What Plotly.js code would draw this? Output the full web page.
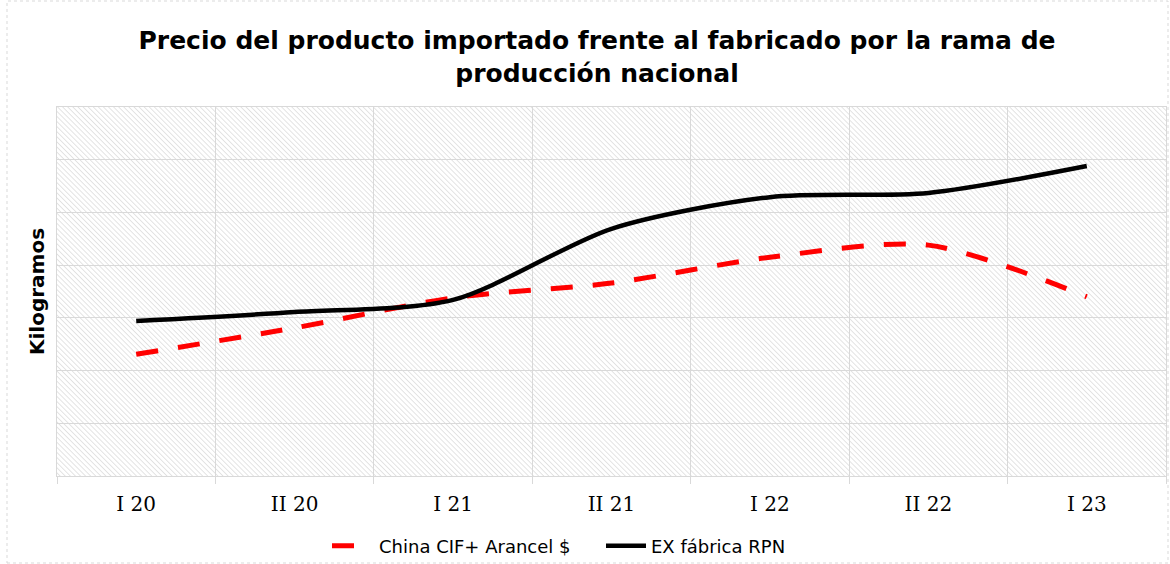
<!DOCTYPE html>
<html>
<head>
<meta charset="utf-8">
<script src="https://cdn.plot.ly/plotly-3.0.1.min.js"></script>
<style>
  html, body { margin: 0; padding: 0; background: #ffffff; }
  #chart { width: 1170px; height: 564px; }
</style>
</head>
<body>
<div id="chart"></div>
<script>
// Data (units of the unlabelled y axis gridlines)
const categories = ['I 20', 'II 20', 'I 21', 'II 21', 'I 22', 'II 22', 'I 23'];
const chinaCIF = [2.31, 2.81, 3.38, 3.66, 4.15, 4.38, 3.40];
const exFabrica = [2.94, 3.11, 3.34, 4.69, 5.29, 5.37, 5.88];
const seriesNames = ['China CIF+ Arancel $', 'EX fábrica RPN'];

const W = 1170, H = 564;
const margin = { l: 57, r: 4, t: 107, b: 88, autoexpand: false };
const plotW = W - margin.l - margin.r;
const plotH = H - margin.t - margin.b;

// hatched plot background as an SVG pattern image
const hatchSvg =
  "<svg xmlns='http://www.w3.org/2000/svg' width='" + plotW + "' height='" + plotH + "'>" +
  "<defs><pattern id='p' width='3.6' height='3.6' patternUnits='userSpaceOnUse' patternTransform='rotate(-45)'>" +
  "<line x1='0' y1='0' x2='0' y2='3.6' stroke='#d2d2d2' stroke-width='1.2'/></pattern></defs>" +
  "<rect width='100%' height='100%' fill='white'/>" +
  "<rect width='100%' height='100%' fill='url(#p)'/></svg>";
const hatchUri = 'data:image/svg+xml;charset=utf-8,' + encodeURIComponent(hatchSvg);

const traces = [
  {
    type: 'scatter', mode: 'lines',
    x: categories, y: chinaCIF, name: seriesNames[0], legend: 'legend',
    line: { color: '#ff0000', width: 5, dash: '22px,20px', shape: 'spline', smoothing: 0.8 }
  },
  {
    type: 'scatter', mode: 'lines',
    x: categories, y: exFabrica, name: seriesNames[1], legend: 'legend2',
    line: { color: '#000000', width: 4.5, shape: 'spline', smoothing: 0.8 }
  }
];

const legendFont = { family: 'DejaVu Sans, Verdana, sans-serif', size: 18, color: '#000000' };

const layout = {
  width: W, height: H,
  margin: margin,
  paper_bgcolor: '#ffffff',
  plot_bgcolor: '#ffffff',
  font: { family: 'DejaVu Sans, Verdana, sans-serif', color: '#000000' },
  title: {
    text: 'Precio del producto importado frente al fabricado por la rama de<br>producción nacional',
    font: { family: 'DejaVu Sans, Verdana, sans-serif', size: 25, color: '#000000', weight: 'bold' },
    x: 597 / W, xref: 'container', xanchor: 'center',
    y: 1 - 49 / H, yref: 'container', yanchor: 'middle'
  },
  xaxis: {
    type: 'category',
    tickson: 'boundaries',
    ticks: 'outside', ticklen: 7, tickcolor: '#d9d9d9', tickwidth: 1,
    showgrid: true, gridcolor: '#d9d9d9', gridwidth: 1,
    showline: true, linecolor: '#d9d9d9', linewidth: 1,
    mirror: true,
    tickfont: { family: 'DejaVu Serif, Liberation Serif, serif', size: 20, color: '#000000' },
    ticklabelstandoff: 10,
    range: [-0.5, 6.5],
    fixedrange: true
  },
  yaxis: {
    range: [0, 7], dtick: 1, tick0: 0,
    showticklabels: false,
    showgrid: true, gridcolor: '#d9d9d9', gridwidth: 1,
    zeroline: false,
    showline: true, linecolor: '#d9d9d9', linewidth: 1, mirror: true,
    ticks: '',
    title: {
      text: 'Kilogramos',
      font: { family: 'DejaVu Sans, Verdana, sans-serif', size: 20, color: '#000000', weight: 'bold' },
      standoff: 6
    },
    fixedrange: true
  },
  legend: {
    orientation: 'h',
    x: (327 - margin.l) / plotW, xanchor: 'left',
    y: (476 - 546) / plotH, yanchor: 'middle',
    itemwidth: 42,
    font: legendFont,
    bgcolor: 'rgba(0,0,0,0)'
  },
  legend2: {
    orientation: 'h',
    x: (601 - margin.l) / plotW, xanchor: 'left',
    y: (476 - 546) / plotH, yanchor: 'middle',
    itemwidth: 40,
    font: legendFont,
    bgcolor: 'rgba(0,0,0,0)'
  },
  images: [{
    source: hatchUri,
    xref: 'paper', yref: 'paper',
    x: 0, y: 1, sizex: 1, sizey: 1,
    xanchor: 'left', yanchor: 'top',
    sizing: 'stretch', layer: 'below'
  }],
  shapes: [{
    type: 'rect', xref: 'paper', yref: 'paper',
    x0: -margin.l / plotW + 7 / plotW, x1: 1 + 2 / plotW,
    y0: -margin.b / plotH + 1 / plotH, y1: 1 + (margin.t - 1) / plotH,
    line: { color: '#d9d9d9', width: 1, dash: 'dot' },
    layer: 'below'
  }],
  showlegend: true
};

Plotly.newPlot('chart', traces, layout, { displayModeBar: false, staticPlot: true });
</script>
</body>
</html>
